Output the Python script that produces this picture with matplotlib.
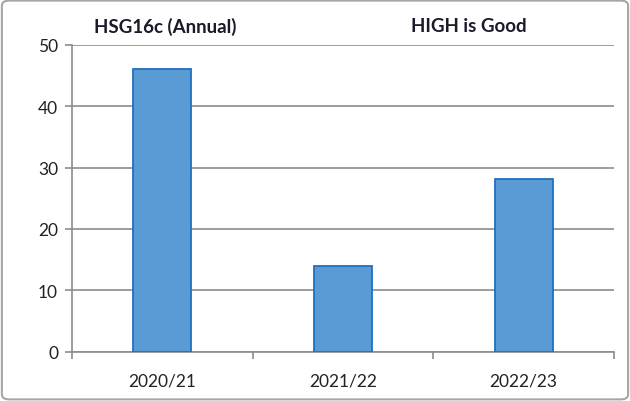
import matplotlib.pyplot as plt
from matplotlib.patches import FancyBboxPatch

# data
years = ["2020/21", "2021/22", "2022/23"]
values = [46, 14, 28.1]
y_ticks = [0, 10, 20, 30, 40, 50]

plt.rcParams['font.family'] = ['Lato', 'DejaVu Sans']

fig = plt.figure(figsize=(6.3, 4.02), dpi=100)
ax = fig.add_axes([72/630, 1 - 352.7/402, (614 - 72)/630, (352.7 - 45.7)/402])

x = range(len(years))
ax.bar(x, values, width=0.32, color="#5B9BD5", edgecolor="#1F70C1", linewidth=1.3, zorder=3)

ax.set_xlim(-0.5, len(years) - 0.5)
ax.set_ylim(0, 50)
ax.set_yticks(y_ticks)
ax.set_yticklabels([str(t) for t in y_ticks], fontsize=12.5, color="#222222")
ax.set_xticks(list(x))
ax.set_xticklabels(years, fontsize=12.5, color="#222222")
ax.tick_params(axis='x', length=0, pad=15)
ax.tick_params(axis='y', length=5, width=1.2, color="#8c8c8c", pad=5)

# category boundary ticks on x axis
ax.set_xticks([-0.5, 0.5, 1.5, 2.5], minor=True)
ax.tick_params(axis='x', which='minor', length=5, width=1.2, color="#8c8c8c")

ax.yaxis.grid(True, color="#8c8c8c", linewidth=1.2, zorder=0)
ax.set_axisbelow(True)
for side in ['top', 'right']:
    ax.spines[side].set_visible(False)
for side in ['left', 'bottom']:
    ax.spines[side].set_color("#8c8c8c")
    ax.spines[side].set_linewidth(1.2)

# titles
fig.text(165/630, 1 - 27/402, "HSG16c (Annual)", fontsize=13.5, fontweight='bold',
         color="#1a1a2a", ha='center', va='center')
fig.text(469/630, 1 - 27/402, "HIGH is Good", fontsize=13.5, fontweight='bold',
         color="#1a1a2a", ha='center', va='center')

# outer border
border = FancyBboxPatch((0.003, 0.004), 0.994, 0.992, boxstyle="round,pad=0,rounding_size=0.012",
                        transform=fig.transFigure, fill=False, edgecolor="#a6a6a6", linewidth=1.5)
fig.patches.append(border)

fig.savefig("out.png", dpi=100)
